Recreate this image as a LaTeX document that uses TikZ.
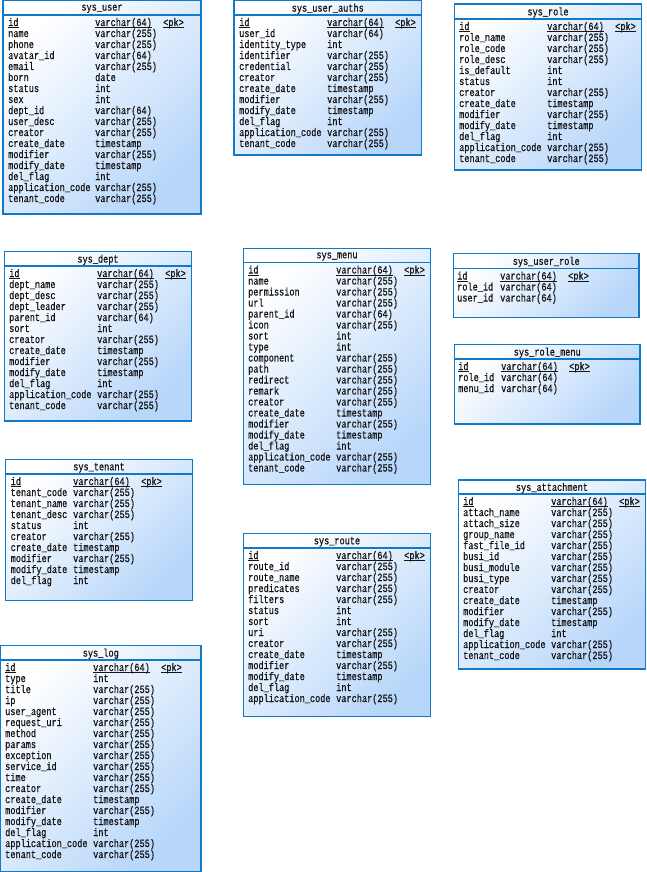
\documentclass[tikz,border=0pt]{standalone}
\usepackage{fontspec}
\newfontfamily\tblfont[FakeStretch=0.78,FakeBold=0.6]{Liberation Mono}
\definecolor{tblborder}{RGB}{16,122,200}
\definecolor{tblblue}{RGB}{183,214,250}
\definecolor{tbltext}{RGB}{20,20,20}
\tikzset{
  tblbox/.style={draw=tblborder, line width=1.1pt, top color=white, bottom color=tblblue, shading angle=45},
  tblline/.style={draw=tblborder, line width=1.1pt},
  tbltitle/.style={inner sep=0pt, font=\tblfont\fontsize{11}{11}\selectfont, text=tbltext, anchor=center},
  cell/.style={inner sep=0pt, font=\tblfont\fontsize{11}{11}\selectfont, text=tbltext, anchor=base west},
  uline/.style={draw=tbltext, line width=0.7pt}
}
\catcode`\_=12
% #1 name, #2 x1, #3 y1, #4 x2, #5 y2, #6 header y, #7 col1 x, #8 col2 x, #9 other rows
\newcommand\ertable[9]{%
  \shadedraw[tblbox] (#2,#3) rectangle (#4,#5);
  \draw[tblline] (#2,#6) -- (#4,#6);
  \node[tbltitle] (#1) at ({(#2+#4)/2},{(#3+#6)/2+1}) {#1};
  \node[cell] (#1-id) at (#7,{#6+11}) {id};
  \node[cell] (#1-idt) at (#8,{#6+11}) {varchar(64)};
  \node[cell] (#1-pk) at ({#8+68},{#6+11}) {<pk>};
  \foreach \n in {id,idt,pk} {
    \draw[uline] ([yshift=-1.8pt]#1-\n.base west) -- ([yshift=-1.8pt]#1-\n.base east);
  }
  \foreach \f/\t [count=\i] in {#9} {
    \node[cell] (#1-f\i) at (#7,{#6+11+11*\i}) {\f};
    \node[cell] (#1-t\i) at (#8,{#6+11+11*\i}) {\t};
  }%
}
\begin{document}
\begin{tikzpicture}[x=1pt,y=-1pt]
\useasboundingbox (0,0) rectangle (646,872);

\ertable{sys_user}{3}{0.6}{201}{214}{15}{8}{95}{%
name/varchar(255), phone/varchar(255), avatar_id/varchar(64), email/varchar(255),
born/date, status/int, sex/int, dept_id/varchar(64), user_desc/varchar(255),
creator/varchar(255), create_date/timestamp, modifier/varchar(255), modify_date/timestamp,
del_flag/int, application_code/varchar(255), tenant_code/varchar(255)}

\ertable{sys_user_auths}{234}{0.6}{421.5}{155}{15}{239}{327}{%
user_id/varchar(64), identity_type/int, identifier/varchar(255), credential/varchar(255),
creator/varchar(255), create_date/timestamp, modifier/varchar(255), modify_date/timestamp,
del_flag/int, application_code/varchar(255), tenant_code/varchar(255)}

\ertable{sys_role}{454.5}{4}{641.5}{170}{19}{459}{547}{%
role_name/varchar(255), role_code/varchar(255), role_desc/varchar(255), is_default/int,
status/int, creator/varchar(255), create_date/timestamp, modifier/varchar(255),
modify_date/timestamp, del_flag/int, application_code/varchar(255), tenant_code/varchar(255)}

\ertable{sys_dept}{4.5}{251.5}{191.5}{421}{266}{9}{97}{%
dept_name/varchar(255), dept_desc/varchar(255), dept_leader/varchar(255), parent_id/varchar(64),
sort/int, creator/varchar(255), create_date/timestamp, modifier/varchar(255),
modify_date/timestamp, del_flag/int, application_code/varchar(255), tenant_code/varchar(255)}

\ertable{sys_menu}{243.5}{248.5}{430.5}{484.5}{262.5}{248}{336}{%
name/varchar(255), permission/varchar(255), url/varchar(255), parent_id/varchar(64),
icon/varchar(255), sort/int, type/int, component/varchar(255), path/varchar(255),
redirect/varchar(255), remark/varchar(255), creator/varchar(255), create_date/timestamp,
modifier/varchar(255), modify_date/timestamp, del_flag/int, application_code/varchar(255),
tenant_code/varchar(255)}

\ertable{sys_user_role}{453.5}{253.5}{639}{317.5}{268.5}{457}{500}{%
role_id/varchar(64), user_id/varchar(64)}

\ertable{sys_role_menu}{454.5}{344.5}{640}{424}{359}{458}{501}{%
role_id/varchar(64), menu_id/varchar(64)}

\ertable{sys_tenant}{5.5}{459.5}{192.5}{600.5}{474}{10.5}{73}{%
tenant_code/varchar(255), tenant_name/varchar(255), tenant_desc/varchar(255), status/int,
creator/varchar(255), create_date/timestamp, modifier/varchar(255), modify_date/timestamp,
del_flag/int}

\ertable{sys_route}{243.5}{533.5}{430.5}{716.5}{548}{248}{336}{%
route_id/varchar(255), route_name/varchar(255), predicates/varchar(255), filters/varchar(255),
status/int, sort/int, uri/varchar(255), creator/varchar(255), create_date/timestamp,
modifier/varchar(255), modify_date/timestamp, del_flag/int, application_code/varchar(255)}

\ertable{sys_attachment}{458.5}{480}{645.4}{669}{494}{463}{551}{%
attach_name/varchar(255), attach_size/varchar(255), group_name/varchar(255),
fast_file_id/varchar(255), busi_id/varchar(255), busi_module/varchar(255),
busi_type/varchar(255), creator/varchar(255), create_date/timestamp, modifier/varchar(255),
modify_date/timestamp, del_flag/int, application_code/varchar(255), tenant_code/varchar(255)}

\ertable{sys_log}{0.6}{645.5}{201}{871.4}{660}{5}{93}{%
type/int, title/varchar(255), ip/varchar(255), user_agent/varchar(255), request_uri/varchar(255),
method/varchar(255), params/varchar(255), exception/varchar(255), service_id/varchar(255),
time/varchar(255), creator/varchar(255), create_date/timestamp, modifier/varchar(255),
modify_date/timestamp, del_flag/int, application_code/varchar(255), tenant_code/varchar(255)}
\end{tikzpicture}
\end{document}
